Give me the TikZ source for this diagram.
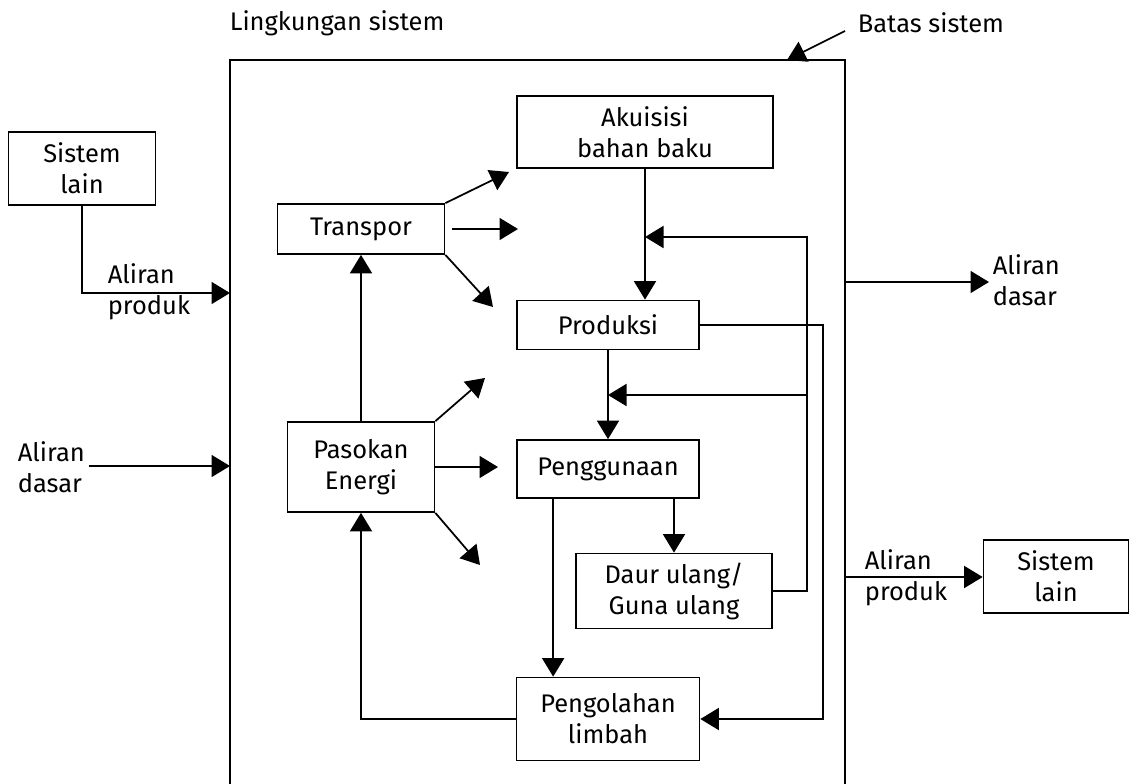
\documentclass[tikz,border=0pt]{standalone}
\usepackage{fontspec}
\setmainfont{Fira Sans}
\usetikzlibrary{arrows.meta, positioning, calc}

\begin{document}
\begin{tikzpicture}[x=0.02cm, y=-0.02cm,
  box/.style={rectangle, draw=black, line width=1pt, fill=white,
              inner sep=0pt, align=center,
              font=\fontsize{14.5}{17.6}\selectfont},
  flow/.style={-{Triangle[length=0.37cm, width=0.44cm]}, line width=1pt},
  lbl/.style={inner sep=2pt, align=left, font=\fontsize{14.5}{17.6}\selectfont}
]
\useasboundingbox (0,0) rectangle (1129,784);
\def\xE{361}
\def\xM{608}

\node[lbl, anchor=west] (lingk) at (226,23) {Lingkungan sistem};
\node[lbl, anchor=west] (batas) at (854,23) {Batas sistem};

\coordinate (bsA) at (845,31);
\coordinate (bsB) at (787,60);
\draw[line width=1pt] (230,800) -- (230,60) -- (845,60) -- (845,800);
\draw[flow] (bsA) -- (bsB);

\node[box, minimum width=2.94cm, minimum height=1.46cm] (sisL) at (82,168.5) {Sistem\\lain};
\node[box, minimum width=2.90cm, minimum height=1.46cm] (sisR) at (1056,576.5) {Sistem\\lain};

\node[box, minimum width=5.12cm, minimum height=1.44cm] (akuisisi) at (645,132) {Akuisisi\\bahan baku};
\node[box, minimum width=3.34cm, minimum height=1.00cm] (transpor) at (\xE,229) {Transpor};
\node[box, minimum width=3.64cm, minimum height=0.98cm] (produksi) at (\xM,325) {Produksi};
\node[box, minimum width=3.64cm, minimum height=1.16cm] (penggunaan) at (\xM,469) {Penggunaan};
\node[box, minimum width=3.92cm, minimum height=1.50cm] (daur) at (674,591) {Daur ulang/\\Guna ulang};
\node[box, minimum width=3.66cm, minimum height=1.66cm] (pengolahan) at (\xM,719) {Pengolahan\\limbah};
\node[box, minimum width=2.94cm, minimum height=1.80cm] (pasokan) at (\xE,467) {Pasokan\\Energi};

\node[lbl, anchor=west] (alpL) at (104,292) {Aliran\\produk};
\node[lbl, anchor=west] (aldL) at (14,467) {Aliran\\dasar};
\node[lbl, anchor=west] (aldR) at (989,280) {Aliran\\dasar};
\node[lbl, anchor=west] (alpR) at (861,578) {Aliran\\produk};

\coordinate (bL1) at (230,293);
\coordinate (bL2) at (230,466);
\coordinate (bR1) at (845,282);
\coordinate (bR2) at (845,577);

\draw[flow] (sisL.south) |- (bL1);
\draw[flow] (aldL.east |- bL2) -- (bL2);
\draw[flow] (bR1) -- (aldR.west |- bR1);
\draw[flow] (bR2) -- (sisR.west |- bR2);

\coordinate (tr1) at (509,172);
\coordinate (tr2) at (518,229);
\coordinate (tr3) at (493,307);
\draw[flow] (transpor.north east) -- (tr1);
\draw[flow, shorten <=0.14cm] (transpor.east) -- (tr2);
\draw[flow] (transpor.south east) -- (tr3);

\coordinate (pe1) at (485,378);
\coordinate (pe2) at (498,467);
\coordinate (pe3) at (480,565);
\draw[flow] (pasokan.north east) -- (pe1);
\draw[flow] (pasokan.east) -- (pe2);
\draw[flow] (pasokan.south east) -- (pe3);
\draw[flow] (pasokan.north) -- (transpor.south);

\coordinate (fbA) at (807,237);
\coordinate (fbB) at (807,395);
\coordinate (wst) at (823,719);

\draw[flow] (akuisisi.south) -- (akuisisi.south |- produksi.north);
\draw[flow] (produksi.south) -- (penggunaan.north);
\draw[flow] (daur.east) -| (fbA) -- (fbA -| akuisisi.south);
\draw[flow] (fbB) -- (fbB -| produksi.south);
\draw[flow] (produksi.east) -| (wst) -- (pengolahan.east);
\draw[flow] (daur.north |- penggunaan.south) -- (daur.north);
\draw[flow] (penggunaan.south west) ++(37,0) coordinate (pw) -- (pw |- pengolahan.north);
\draw[flow] (pengolahan.west) -| (pasokan.south);
\end{tikzpicture}
\end{document}
